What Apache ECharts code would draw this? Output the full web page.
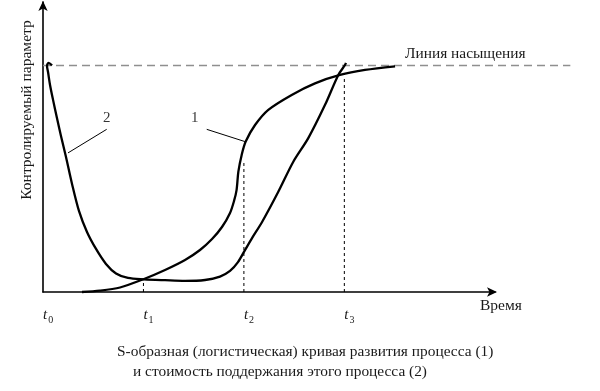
<!DOCTYPE html>
<html><head><meta charset="utf-8">
<script src="https://cdn.jsdelivr.net/npm/echarts@6/dist/echarts.min.js"></script>
<style>html,body{margin:0;padding:0;background:#fff}#c{width:600px;height:391px}</style>
</head><body><div id="c"></div>
<script>
// ---- data ----
const tickValues = [0, 1, 2, 3];
const tickSubs = ['0', '1', '2', '3'];
const xMax = 4.5;
const yMax = 128;
const saturationLevel = 100;
const saturationSpan = [0, 5.25];
// curve 1: S-shaped (logistic) development curve
const curve1 = [[0.388,0],[0.567,0.57],[0.767,1.99],[1.006,5.74],[1.215,9.71],[1.414,14.13],[1.563,18.54],[1.683,23.4],[1.782,28.7],[1.862,34.9],[1.902,40.2],[1.927,45.0],[1.945,53.1],[1.978,60.5],[2.018,66.4],[2.111,73.7],[2.243,80.4],[2.476,87.0],[2.708,92.1],[2.957,95.8],[3.206,98.0],[3.505,99.6]];
// curve 2: cost of maintaining the process
const curve2 = [[0.090,100.0],[0.055,101.1],[0.040,99.8],[0.050,97.1],[0.070,91.4],[0.100,84.8],[0.139,76.8],[0.179,68.9],[0.229,59.6],[0.289,47.7],[0.358,35.8],[0.438,26.5],[0.528,19.0],[0.627,12.4],[0.727,8.2],[0.846,6.2],[1.006,5.6],[1.215,5.2],[1.414,4.9],[1.613,5.3],[1.762,6.8],[1.862,9.3],[1.941,13.2],[2.011,18.5],[2.081,23.8],[2.181,30.9],[2.340,44.0],[2.492,57.5],[2.641,67.9],[2.808,82.6],[2.940,95.8],[3.007,100.2],[3.016,101.1]];
// vertical guide tops at t1, t2, t3
const guideX = [1, 2, 3];
const guideTop = [5.7, 57.5, 94.5];
// curve number labels and leader lines
const curveNames = ['1', '2'];
const namePos = [[1.51, 76.7], [0.634, 76.7]];
const leader1 = [[1.63, 71.8], [2.01, 66.4]];
const leader2 = [[0.634, 71.8], [0.249, 61.4]];

const FONT = '"Liberation Serif", "Times New Roman", serif';
const W = 600, H = 391;
const grid = {left: 43, right: 105, top: 2, bottom: 99};
const pxPerUnit = (W - grid.left - grid.right) / xMax;
const grid2 = {left: grid.left, top: grid.top, bottom: grid.bottom, width: (saturationSpan[1] - 0) * pxPerUnit};

const chart = echarts.init(document.getElementById('c'), null, {renderer: 'canvas'});

const series = [
  {type: 'line', xAxisIndex: 1, yAxisIndex: 1, data: [[saturationSpan[0], saturationLevel], [saturationSpan[1], saturationLevel]], symbol: 'none', silent: true,
   lineStyle: {color: '#8f8f8f', width: 1.6, type: [8, 5]}, z: 1},
  {type: 'line', data: curve1, smooth: 0.3, symbol: 'none', clip: false, lineStyle: {color: '#000', width: 2.3}, z: 3},
  {type: 'line', data: curve2, smooth: 0.3, symbol: 'none', clip: false, lineStyle: {color: '#000', width: 2.3}, z: 3},
  {type: 'line', data: leader1, symbol: 'none', lineStyle: {color: '#000', width: 1}, z: 2},
  {type: 'line', data: leader2, symbol: 'none', lineStyle: {color: '#000', width: 1}, z: 2},
  {type: 'scatter', symbolSize: 0, data: namePos.map((p, i) => ({value: p, name: curveNames[i]})),
   label: {show: true, position: 'inside', formatter: p => p.name, fontFamily: FONT, fontSize: 15, color: '#000'}}
];
guideX.forEach((gx, i) => {
  series.push({type: 'line', data: [[gx, 0], [gx, guideTop[i]]], symbol: 'none',
    lineStyle: {color: '#000', width: 1, type: [3, 3]}, z: 2});
});

chart.setOption({
  animation: false,
  backgroundColor: '#fff',
  grid: [grid, grid2],
  xAxis: [{
    type: 'value', min: 0, max: xMax, interval: 1,
    axisLine: {show: true, onZero: false, symbol: ['none', 'arrow'], symbolSize: [7, 10], symbolOffset: [0, 2],
      lineStyle: {color: '#000', width: 1.6}},
    axisTick: {show: false}, splitLine: {show: false},
    axisLabel: {
      show: true, margin: 14, align: 'left', showMaxLabel: false,
      formatter: v => { const i = tickValues.indexOf(v); return i < 0 ? '' : '{t|t}{s|' + tickSubs[i] + '}'; },
      rich: {
        t: {fontFamily: FONT, fontStyle: 'italic', fontSize: 15, color: '#1a1a1a'},
        s: {fontFamily: FONT, fontSize: 10, color: '#1a1a1a', padding: [9, 0, 0, 1]}
      }
    }
  }, {
    type: 'value', gridIndex: 1, min: 0, max: saturationSpan[1], show: false
  }],
  yAxis: [{
    type: 'value', min: 0, max: yMax,
    axisLine: {show: true, onZero: false, symbol: ['none', 'arrow'], symbolSize: [7, 10], symbolOffset: [0, 1],
      lineStyle: {color: '#000', width: 1.6}},
    axisTick: {show: false}, splitLine: {show: false}, axisLabel: {show: false}
  }, {
    type: 'value', gridIndex: 1, min: 0, max: yMax, show: false
  }],
  series: series,
  graphic: [
    {type: 'text', x: 27, y: 110, rotation: Math.PI / 2,
     style: {text: 'Контролируемый параметр', font: '15.5px ' + FONT, fill: '#1a1a1a', textAlign: 'center', textVerticalAlign: 'middle'}},
    {type: 'text', x: 405, y: 54,
     style: {text: 'Линия насыщения', font: '15.4px ' + FONT, fill: '#1a1a1a', textAlign: 'left', textVerticalAlign: 'middle'}},
    {type: 'text', x: 480, y: 306,
     style: {text: 'Время', font: '15.5px ' + FONT, fill: '#1a1a1a', textAlign: 'left', textVerticalAlign: 'middle'}},
    {type: 'text', x: 117, y: 352,
     style: {text: 'S-образная (логистическая) кривая развития процесса (1)', font: '15.4px ' + FONT, fill: '#1a1a1a', textAlign: 'left', textVerticalAlign: 'middle'}},
    {type: 'text', x: 133, y: 372,
     style: {text: 'и стоимость поддержания этого процесса (2)', font: '15.4px ' + FONT, fill: '#1a1a1a', textAlign: 'left', textVerticalAlign: 'middle'}}
  ]
});
</script></body></html>
